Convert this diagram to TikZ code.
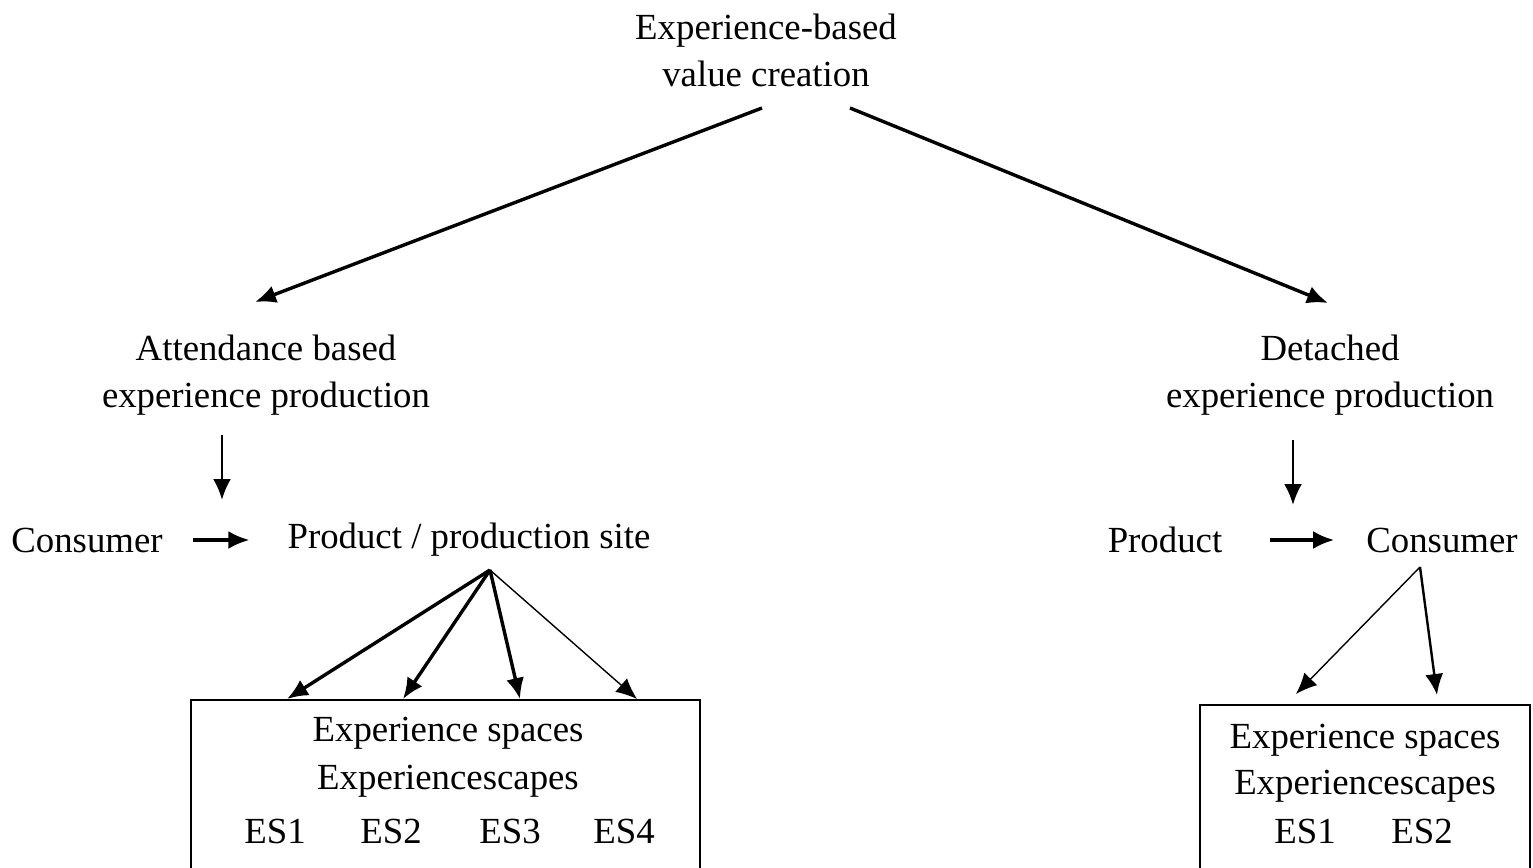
\documentclass[tikz,border=0pt]{standalone}
\usepackage{fontspec}
\setmainfont{Liberation Serif}
\usetikzlibrary{arrows.meta}
\begin{document}
\begin{tikzpicture}[x=1pt,y=-1pt,
  txt/.style={inner sep=0pt,align=center,font=\fontsize{36.8}{47}\selectfont},
  arr/.style={line width=3.4pt,-{Latex[length=21pt,width=18pt]}},
  arrthin/.style={line width=1.4pt,-{Latex[length=21pt,width=18pt]}},
  box/.style={draw,line width=2.2pt,rectangle,inner sep=0pt,anchor=north}]
\useasboundingbox (0,0) rectangle (1533,867);
\clip (0,0) rectangle (1533,867);
% texts
\node[txt] (title) at (766,50) {Experience-based\\value creation};
\node[txt] (att) at (266,375) {Attendance based\\experience production};
\node[txt] (det) at (1330,375) {Detached\\experience production};
\node[txt] (cons) at (87,540) {Consumer};
\node[txt] (prod) at (469,540) {Product / production site};
\node[txt] (prodr) at (1165,540) {Product};
\node[txt] (consr) at (1442,540) {Consumer};
% boxes
\node[box,minimum width=509pt,minimum height=200pt] (boxl) at (445.5,699) {};
\node[box,minimum width=330pt,minimum height=200pt] (boxr) at (1365,704) {};
\node[txt] (esl) at (448,733) {Experience spaces};
\node[txt] (escl) at (448,781) {Experiencescapes};
\node[txt] (l1) at (275,831) {ES1};
\node[txt] (l2) at (391,831) {ES2};
\node[txt] (l3) at (510,831) {ES3};
\node[txt] (l4) at (624,831) {ES4};
\node[txt] (esr) at (1365,740) {Experience spaces};
\node[txt] (escr) at (1365,786) {Experiencescapes};
\node[txt] (r1) at (1305,831) {ES1};
\node[txt] (r2) at (1422,831) {ES2};
% arrows
\draw[arr] ([shift={(-4,58)}]title.center) -- ([shift={(-11,-73)}]att.center);
\draw[arr] ([shift={(84,58)}]title.center) -- ([shift={(-2,-72)}]det.center);
\draw[arr,line width=2.6pt] ([shift={(-44,60)}]att.center) -- ([shift={(135,-40)}]cons.center);
\draw[arr,line width=2.6pt] ([shift={(-37,65)}]det.center) -- ([shift={(128,-35)}]prodr.center);
\draw[arr] ([xshift=30]cons.east) -- ([xshift=-38]prod.west);
\draw[arr] ([xshift=48]prodr.east) -- ([xshift=-32]consr.west);
\draw[arr] ([shift={(21,30)}]prod.center) -- ([xshift=-158.5]boxl.north);
\draw[arr] ([shift={(21,30)}]prod.center) -- ([xshift=-42.5]boxl.north);
\draw[arr] ([shift={(21,30)}]prod.center) -- ([xshift=74.5]boxl.north);
\draw[arrthin] ([shift={(21,30)}]prod.center) -- ([xshift=191.5]boxl.north);
\draw[arrthin] ([shift={(-22,27)}]consr.center) -- ([shift={(-69,-10)}]boxr.north);
\draw[arr,line width=2.4pt] ([shift={(-22,27)}]consr.center) -- ([shift={(72,-9)}]boxr.north);
\end{tikzpicture}
\end{document}
